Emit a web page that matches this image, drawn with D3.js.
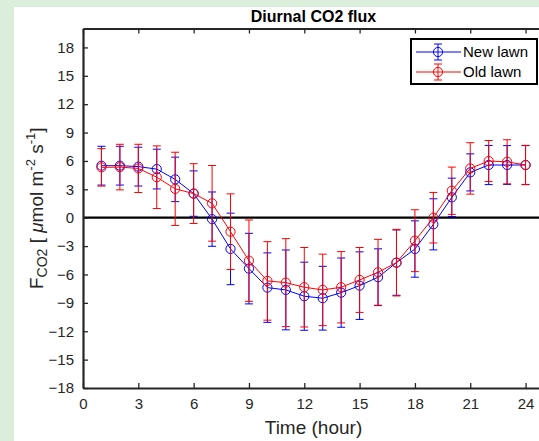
<!DOCTYPE html>
<html><head><meta charset="utf-8">
<script src="https://cdn.jsdelivr.net/npm/d3@7"></script>
<style>
html,body{margin:0;padding:0;background:#dbeedb;}
svg{display:block;}
</style></head>
<body>
<svg id="chart" width="539" height="441"></svg>
<script>
const hours = [1,2,3,4,5,6,7,8,9,10,11,12,13,14,15,16,17,18,19,20,21,22,23,24];
const newLawnMean = [5.5,5.5,5.4,5.14,4.05,2.55,-0.15,-3.3,-5.38,-7.39,-7.63,-8.3,-8.51,-7.92,-7.18,-6.29,-4.75,-3.31,-0.7,2.15,4.79,5.57,5.57,5.57];
const newLawnErr = [2.05,2.05,2.05,2.1,2.35,2.4,2.87,3.78,3.73,3.67,4.22,3.6,3.37,3.66,3.57,3.0,3.45,2.98,2.7,2.03,1.96,2.07,2.05,2.05];
const oldLawnMean = [5.32,5.35,5.21,4.28,3.05,2.55,1.52,-1.48,-4.54,-6.68,-6.86,-7.35,-7.63,-7.35,-6.58,-5.77,-4.75,-2.43,0.0,2.85,5.21,5.99,5.91,5.57];
const oldLawnErr = [1.98,2.41,2.55,3.31,3.87,3.16,4.0,4.0,4.3,4.15,4.65,4.2,3.78,3.77,3.43,3.48,3.52,3.27,2.67,2.5,2.72,2.17,2.33,2.08];
const xTicks = [0,3,6,9,12,15,18,21,24];
const yTicks = [-18,-15,-12,-9,-6,-3,0,3,6,9,12,15,18];
const seriesNames = ["New lawn","Old lawn"];
const seriesColors = ["#0000ff","#ff0000"];
const titleText = "Diurnal CO2 flux";
const xLabel = "Time (hour)";

const svg = d3.select("#chart");
const font = "'Liberation Sans', Arial, Helvetica, sans-serif";
const axCol = "#262626";

// white figure panel
svg.append("rect").attr("x",14).attr("y",7).attr("width",539-14).attr("height",441-7).attr("fill","#ffffff");

const L = 83, R = 544, T = 28.5, B = 388;
const x = d3.scaleLinear().domain([0,25]).range([L,R]);
const y = d3.scaleLinear().domain([-18,20]).range([B,T]);

const g = svg.append("g");

// zero line
g.append("line").attr("x1",L).attr("x2",R).attr("y1",y(0)).attr("y2",y(0))
  .attr("stroke","#000").attr("stroke-width",2.2);

const series = [
  {name:seriesNames[0], color:seriesColors[0], mean:newLawnMean, err:newLawnErr},
  {name:seriesNames[1], color:seriesColors[1], mean:oldLawnMean, err:oldLawnErr}
];

const capW = 4;
series.forEach(s => {
  const data = hours.map((h,i)=>({h, m:s.mean[i], e:s.err[i]}));
  const sg = g.append("g");
  const eb = sg.selectAll("g.eb").data(data).enter().append("g");
  eb.append("line").attr("x1",d=>x(d.h)).attr("x2",d=>x(d.h))
    .attr("y1",d=>y(d.m+d.e)).attr("y2",d=>y(d.m-d.e))
    .attr("stroke",s.color).attr("stroke-width",1);
  eb.append("line").attr("x1",d=>x(d.h)-capW).attr("x2",d=>x(d.h)+capW)
    .attr("y1",d=>y(d.m+d.e)).attr("y2",d=>y(d.m+d.e))
    .attr("stroke",s.color).attr("stroke-width",1);
  eb.append("line").attr("x1",d=>x(d.h)-capW).attr("x2",d=>x(d.h)+capW)
    .attr("y1",d=>y(d.m-d.e)).attr("y2",d=>y(d.m-d.e))
    .attr("stroke",s.color).attr("stroke-width",1);
  sg.append("path").datum(data)
    .attr("d", d3.line().x(d=>x(d.h)).y(d=>y(d.m)))
    .attr("fill","none").attr("stroke",s.color).attr("stroke-width",1);
  sg.selectAll("circle").data(data).enter().append("circle")
    .attr("cx",d=>x(d.h)).attr("cy",d=>y(d.m)).attr("r",4.6)
    .attr("fill","none").attr("stroke",s.color).attr("stroke-width",1);
});

// axes
const tickLen = 5;
const xAxisB = d3.axisBottom(x).tickValues(xTicks).tickSizeInner(-tickLen).tickSizeOuter(0).tickPadding(10);
const xAxisT = d3.axisTop(x).tickValues(xTicks).tickSizeInner(-tickLen).tickSizeOuter(0).tickFormat("");
const yAxisL = d3.axisLeft(y).tickValues(yTicks).tickSizeInner(-tickLen).tickSizeOuter(0).tickPadding(9);
const yAxisR = d3.axisRight(y).tickValues(yTicks).tickSizeInner(-tickLen).tickSizeOuter(0).tickFormat("");

function styleAxis(sel){
  sel.selectAll("path").attr("stroke",axCol).attr("stroke-width",2);
  sel.selectAll("line").attr("stroke",axCol).attr("stroke-width",1.3);
  sel.selectAll("text").attr("fill",axCol).style("font-family",font).style("font-size","15px");
}
styleAxis(svg.append("g").attr("transform",`translate(0,${B})`).call(xAxisB));
styleAxis(svg.append("g").attr("transform",`translate(0,${T})`).call(xAxisT));
styleAxis(svg.append("g").attr("transform",`translate(${L},0)`).call(yAxisL));
styleAxis(svg.append("g").attr("transform",`translate(${R},0)`).call(yAxisR));
svg.selectAll(".domain").attr("stroke-width",2.2);

// title
svg.append("text").attr("x",(L+R)/2).attr("y",22).attr("text-anchor","middle")
  .style("font-family",font).style("font-size","16px").style("font-weight","bold")
  .attr("fill","#000").text(titleText);

// x label
svg.append("text").attr("x",(L+R)/2).attr("y",434).attr("text-anchor","middle")
  .style("font-family",font).style("font-size","19px").attr("fill",axCol).text(xLabel);

// y label
const yl = svg.append("text").attr("transform",`translate(43,${(T+B)/2}) rotate(-90)`)
  .attr("text-anchor","middle").style("font-family",font).style("font-size","19px").attr("fill",axCol);
yl.append("tspan").text("F");
yl.append("tspan").attr("dy",4).style("font-size","14px").text("CO2");
yl.append("tspan").attr("dy",-4).text(" [ ");
yl.append("tspan").style("font-style","italic").text("\u03bc");
yl.append("tspan").text("mol m");
yl.append("tspan").attr("dy",-8).style("font-size","13px").text("-2");
yl.append("tspan").attr("dy",8).text(" s");
yl.append("tspan").attr("dy",-8).style("font-size","13px").text("-1");
yl.append("tspan").attr("dy",8).text("]");

// legend
const lg = svg.append("g");
const lx = 411, ly = 39, lw = 126, lh = 45;
lg.append("rect").attr("x",lx).attr("y",ly).attr("width",lw).attr("height",lh)
  .attr("fill","#fff").attr("stroke","#000").attr("stroke-width",2);
series.forEach((s,i)=>{
  const cy = ly + 13 + i*20;
  lg.append("line").attr("x1",lx+5).attr("x2",lx+50).attr("y1",cy).attr("y2",cy).attr("stroke",s.color).attr("stroke-width",1);
  lg.append("line").attr("x1",lx+27).attr("x2",lx+27).attr("y1",cy-8).attr("y2",cy+8).attr("stroke",s.color).attr("stroke-width",1);
  lg.append("line").attr("x1",lx+23).attr("x2",lx+31).attr("y1",cy-8).attr("y2",cy-8).attr("stroke",s.color).attr("stroke-width",1);
  lg.append("line").attr("x1",lx+23).attr("x2",lx+31).attr("y1",cy+8).attr("y2",cy+8).attr("stroke",s.color).attr("stroke-width",1);
  lg.append("circle").attr("cx",lx+27).attr("cy",cy).attr("r",4.6).attr("fill","none").attr("stroke",s.color).attr("stroke-width",1);
  lg.append("text").attr("x",lx+52).attr("y",cy+5).style("font-family",font).style("font-size","15px").attr("fill","#000").text(s.name);
});
</script>
</body></html>
